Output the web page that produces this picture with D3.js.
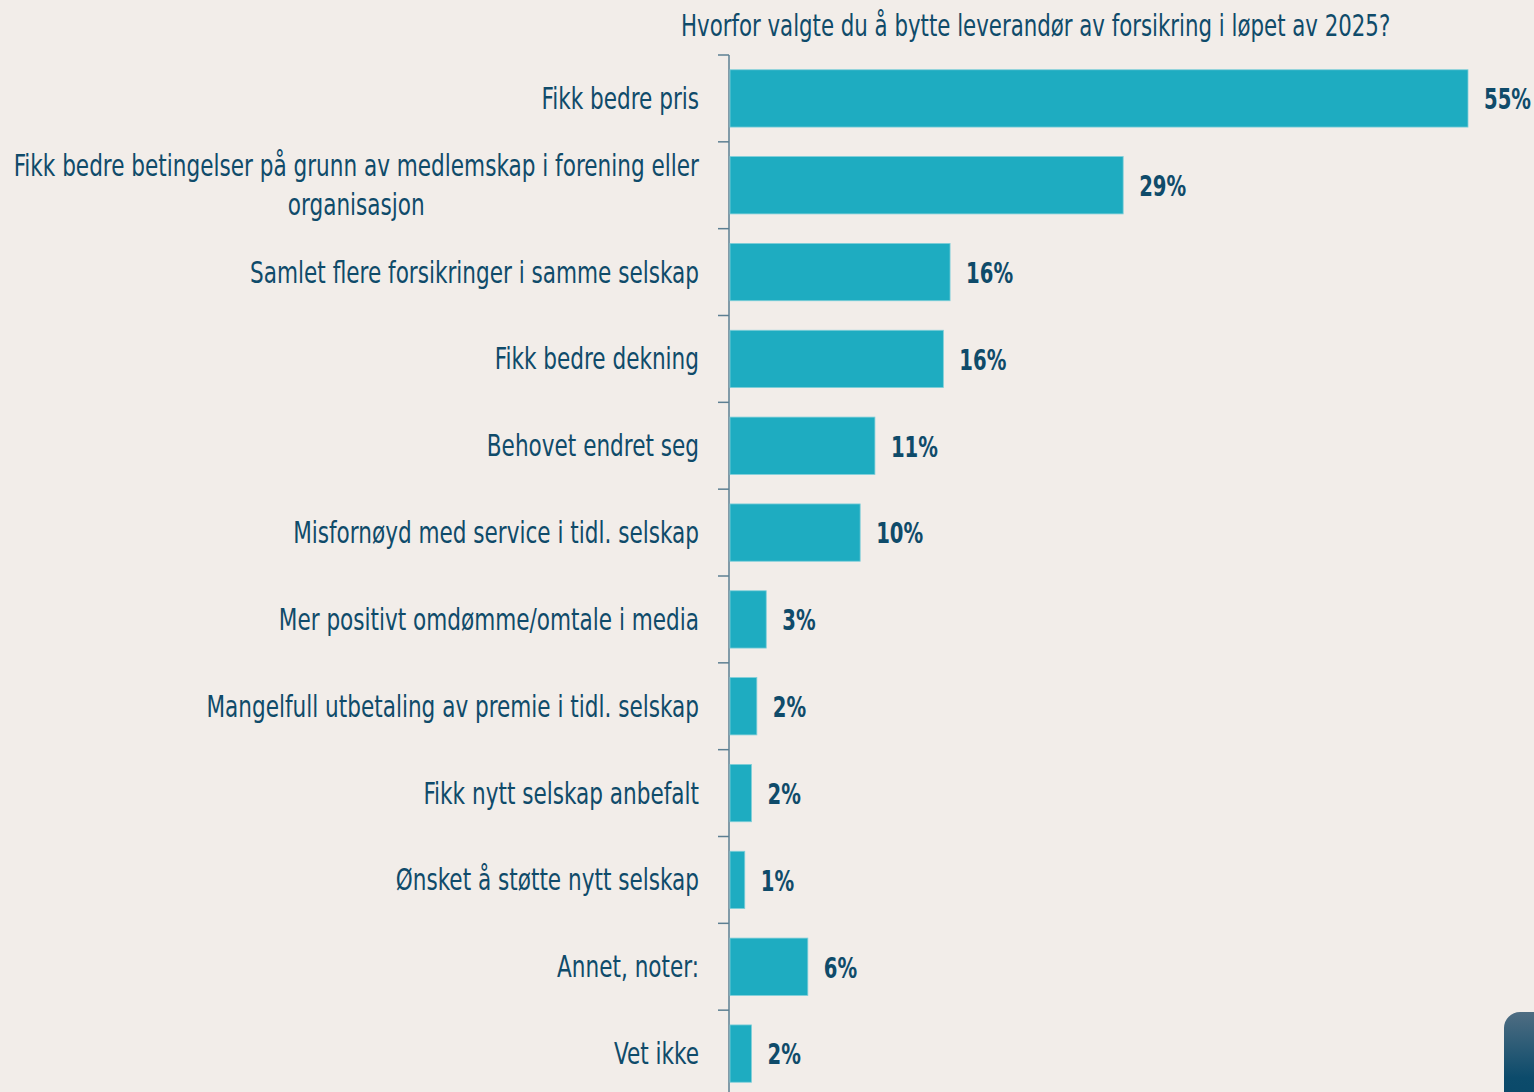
<!DOCTYPE html>
<html>
<head>
<meta charset="utf-8">
<script src="https://cdn.jsdelivr.net/npm/d3@7/dist/d3.min.js"></script>
<style>
  html, body { margin: 0; padding: 0; background: #f2ede9; }
  svg { display: block; }
  text { font-family: "Liberation Sans Narrow", "DejaVu Sans Condensed", "Roboto", sans-serif; }
</style>
</head>
<body>
<svg id="chart" width="1534" height="1092"></svg>
<script>
const title = "Hvorfor valgte du å bytte leverandør av forsikring i løpet av 2025?";
const categories = [
  "Fikk bedre pris",
  "Fikk bedre betingelser på grunn av medlemskap i forening eller|organisasjon",
  "Samlet flere forsikringer i samme selskap",
  "Fikk bedre dekning",
  "Behovet endret seg",
  "Misfornøyd med service i tidl. selskap",
  "Mer positivt omdømme/omtale i media",
  "Mangelfull utbetaling av premie i tidl. selskap",
  "Fikk nytt selskap anbefalt",
  "Ønsket å støtte nytt selskap",
  "Annet, noter:",
  "Vet ikke"
];
const values = [55, 29.3, 16.4, 15.9, 10.8, 9.7, 2.7, 2.0, 1.6, 1.1, 5.8, 1.6];
const valueLabels = ["55%", "29%", "16%", "16%", "11%", "10%", "3%", "2%", "2%", "1%", "6%", "2%"];

const W = 1534, H = 1092;
const bg = "#f2ede9", barColor = "#1eacc1", barStroke = "#7fcfd9", textColor = "#0f4b6a", axisColor = "#5c7f92";
const svg = d3.select("#chart");
svg.append("rect").attr("width", W).attr("height", H).attr("fill", bg);

// condensed look: horizontal squeeze of the fallback font
const sLabel = 0.80, sTitle = 0.79, sVal = 0.78;

function squeezedText(parent, px, py, s, size, weight, anchor, str) {
  const g = parent.append("g").attr("transform", `translate(${px},${py}) scale(${s},1)`);
  const t = g.append("text")
    .attr("x", 0).attr("y", 0).attr("dy", "0.35em")
    .attr("font-size", size).attr("font-weight", weight)
    .attr("text-anchor", anchor).attr("fill", textColor)
    .text(str);
  return t;
}

const axisX = 729;
const x = d3.scaleLinear().domain([0, 55]).range([axisX + 1, 1468]);
const pInner = 0.34;
const y = d3.scaleBand().domain(categories).range([55, 1097]).paddingInner(pInner).paddingOuter(pInner / 2);
const step = y.step();

// title
squeezedText(svg, 681, 25, sTitle, 30, "normal", "start", title);

// axis line + ticks at band boundaries
const g = svg.append("g");
g.append("line")
  .attr("x1", axisX).attr("x2", axisX)
  .attr("y1", y.range()[0]).attr("y2", y.range()[1])
  .attr("stroke", axisColor).attr("stroke-width", 1.5);
g.selectAll("line.tick").data(categories).enter().append("line")
  .attr("class", "tick")
  .attr("x1", axisX - 11).attr("x2", axisX)
  .attr("y1", d => y(d) - step * pInner / 2)
  .attr("y2", d => y(d) - step * pInner / 2)
  .attr("stroke", axisColor).attr("stroke-width", 1.5);

// bars
svg.selectAll("rect.bar").data(categories).enter().append("rect")
  .attr("class", "bar")
  .attr("x", x(0))
  .attr("y", (d) => y(d))
  .attr("width", (d, i) => x(values[i]) - x(0))
  .attr("height", y.bandwidth())
  .attr("fill", barColor)
  .attr("stroke", barStroke).attr("stroke-width", 0.8);

// value labels
categories.forEach((c, i) => {
  squeezedText(svg, x(values[i]) + 16, y(c) + y.bandwidth() / 2 + 1, sVal, 28, "bold", "start", valueLabels[i]);
});

// category labels
const labelRight = axisX - 30;
const lineGap = 39;
categories.forEach(c => {
  const lines = c.split("|");
  const cy = y(c) + y.bandwidth() / 2;
  if (lines.length === 1) {
    squeezedText(svg, labelRight, cy, sLabel, 30, "normal", "end", lines[0]);
  } else {
    const tmp = svg.append("text").attr("font-size", 30).text(lines[0]);
    const w = tmp.node().getComputedTextLength() * sLabel;
    tmp.remove();
    const cx = labelRight - w / 2;
    const y0 = cy - lineGap * (lines.length - 1) / 2;
    lines.forEach((ln, k) => {
      squeezedText(svg, cx, y0 + k * lineGap, sLabel, 30, "normal", "middle", ln);
    });
  }
});

// bottom-right decorative tab
const defs = svg.append("defs");
const grad = defs.append("linearGradient").attr("id", "tabGrad").attr("x1", 0).attr("y1", 0).attr("x2", 0).attr("y2", 1);
grad.append("stop").attr("offset", "0%").attr("stop-color", "#4f6d82");
grad.append("stop").attr("offset", "55%").attr("stop-color", "#0c4b6b");
grad.append("stop").attr("offset", "100%").attr("stop-color", "#064566");
svg.append("rect")
  .attr("x", 1504).attr("y", 1012).attr("width", 60).attr("height", 120)
  .attr("rx", 16).attr("fill", "url(#tabGrad)");
</script>
</body>
</html>
